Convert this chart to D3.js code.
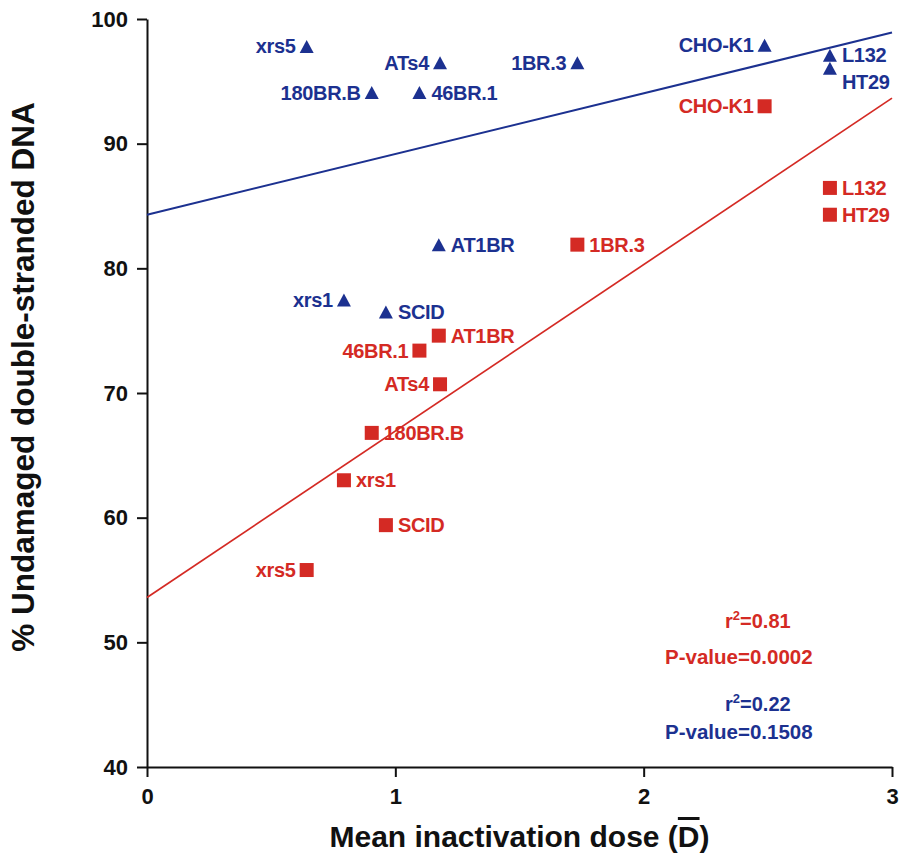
<!DOCTYPE html>
<html>
<head>
<meta charset="utf-8">
<script src="https://cdn.jsdelivr.net/npm/d3@7"></script>
<style>
  html, body { margin: 0; padding: 0; background: #fff; }
  svg { display: block; }
  text { font-family: "Liberation Sans", Arial, Helvetica, sans-serif; font-weight: bold; }
</style>
</head>
<body>
<svg id="chart" width="903" height="864"></svg>
<script>
// ---- data ----
const cellLines   = ["xrs5", "ATs4", "180BR.B", "46BR.1", "1BR.3", "CHO-K1", "L132", "HT29", "AT1BR", "xrs1", "SCID"];
const meanDose    = [0.643, 1.18, 0.905, 1.097, 1.733, 2.487, 2.75, 2.75, 1.175, 0.793, 0.962];
const blueValues  = [97.8, 96.5, 94.1, 94.1, 96.5, 97.9, 97.1, 96.05, 81.9, 77.45, 76.5];   // triangles
const redValues   = [55.8, 70.7, 66.8, 73.4, 81.9, 93.0, 86.45, 84.3, 74.6, 63.0, 59.4];   // squares
const blueLabelSide = ["left", "left", "left", "right", "left", "left", "right", "right", "right", "left", "right"];
const redLabelSide  = ["left", "left", "right", "left", "right", "left", "right", "right", "right", "right", "right"];
const blueFit = { intercept: 84.3, slope: 4.87 };
const redFit  = { intercept: 53.6, slope: 13.35 };
const xTicks = [0, 1, 2, 3];
const yTicks = [40, 50, 60, 70, 80, 90, 100];
const redStats  = ["0.81", "0.0002"];
const blueStats = ["0.22", "0.1508"];

// ---- layout ----
const BLUE = "#1c3190";
const RED = "#d42a24";
const svg = d3.select("#chart");
const mLeft = 147, mRight = 892, mTop = 19, mBottom = 767;

const x = d3.scaleLinear().domain([0, 3]).range([mLeft, mRight]);
const y = d3.scaleLinear().domain([40, 100]).range([mBottom, mTop]);

// axes
const xAxis = svg.append("g").attr("transform", `translate(0,${mBottom})`)
  .call(d3.axisBottom(x).tickValues(xTicks).tickFormat(d3.format("d")).tickSize(10).tickSizeOuter(0).tickPadding(11));
const yAxis = svg.append("g").attr("transform", `translate(${mLeft},0)`)
  .call(d3.axisLeft(y).tickValues(yTicks).tickSize(10).tickSizeOuter(0).tickPadding(9));
[xAxis, yAxis].forEach(g => {
  g.select(".domain").attr("stroke", "#111").attr("stroke-width", 2);
  g.selectAll(".tick line").attr("stroke", "#111").attr("stroke-width", 2);
  g.selectAll(".tick text").attr("fill", "#111").style("font-size", "22px")
    .style("font-family", "'Liberation Sans', Arial, sans-serif").style("font-weight", "bold");
});

// regression lines
function fitLine(fit, color, w) {
  svg.append("line")
    .attr("x1", x(0)).attr("y1", y(fit.intercept))
    .attr("x2", x(3)).attr("y2", y(fit.intercept + fit.slope * 3))
    .attr("stroke", color).attr("stroke-width", w);
}
fitLine(blueFit, BLUE, 2);
fitLine(redFit, RED, 1.7);

// markers
const pts = cellLines.map((n, i) => ({ name: n, d: meanDose[i], b: blueValues[i], r: redValues[i], bs: blueLabelSide[i], rs: redLabelSide[i] }));

svg.append("g").selectAll("path").data(pts).join("path")
  .attr("d", p => { const cx = x(p.d), cy = y(p.b); return `M${cx},${cy - 6.5}L${cx + 7},${cy + 6.5}L${cx - 7},${cy + 6.5}Z`; })
  .attr("fill", BLUE);

svg.append("g").selectAll("rect").data(pts).join("rect")
  .attr("x", p => x(p.d) - 7).attr("y", p => y(p.r) - 7)
  .attr("width", 14).attr("height", 14)
  .attr("fill", RED);

// labels
function labels(key, sideKey, color) {
  svg.append("g").selectAll("text").data(pts).join("text")
    .attr("x", p => p[sideKey] === "left" ? x(p.d) - 11 : x(p.d) + 12)
    .attr("y", p => y(p[key]) + (key === "b" && p.name === "HT29" ? 14 : 0))
    .attr("dy", "0.35em")
    .attr("text-anchor", p => p[sideKey] === "left" ? "end" : "start")
    .attr("fill", color)
    .style("font-size", "20px")
    .style("letter-spacing", "-0.3px")
    .text(p => p.name);
}
labels("b", "bs", BLUE);
labels("r", "rs", RED);

// stats text
function stats(vals, color, yR, yP) {
  const t1 = svg.append("text").attr("x", 725).attr("y", yR).attr("fill", color).style("font-size", "20px");
  t1.append("tspan").text("r");
  t1.append("tspan").attr("dy", -8).style("font-size", "13px").text("2");
  t1.append("tspan").attr("dy", 8).text("=" + vals[0]);
  svg.append("text").attr("x", 665).attr("y", yP).attr("fill", color).style("font-size", "20.5px")
    .text("P-value=" + vals[1]);
}
stats(redStats, RED, 628, 664);
stats(blueStats, BLUE, 711, 739);

// axis titles
const xt = svg.append("text").attr("x", (mLeft + mRight) / 2).attr("y", 847).attr("text-anchor", "middle")
  .attr("fill", "#111").style("font-size", "30px");
xt.append("tspan").text("Mean inactivation dose (");
xt.append("tspan").style("text-decoration", "overline").text("D");
xt.append("tspan").text(")");

svg.append("text").attr("transform", "translate(34,377) rotate(-90)").attr("text-anchor", "middle")
  .attr("fill", "#111").style("font-size", "31.5px")
  .text("% Undamaged double-stranded DNA");
</script>
</body>
</html>
